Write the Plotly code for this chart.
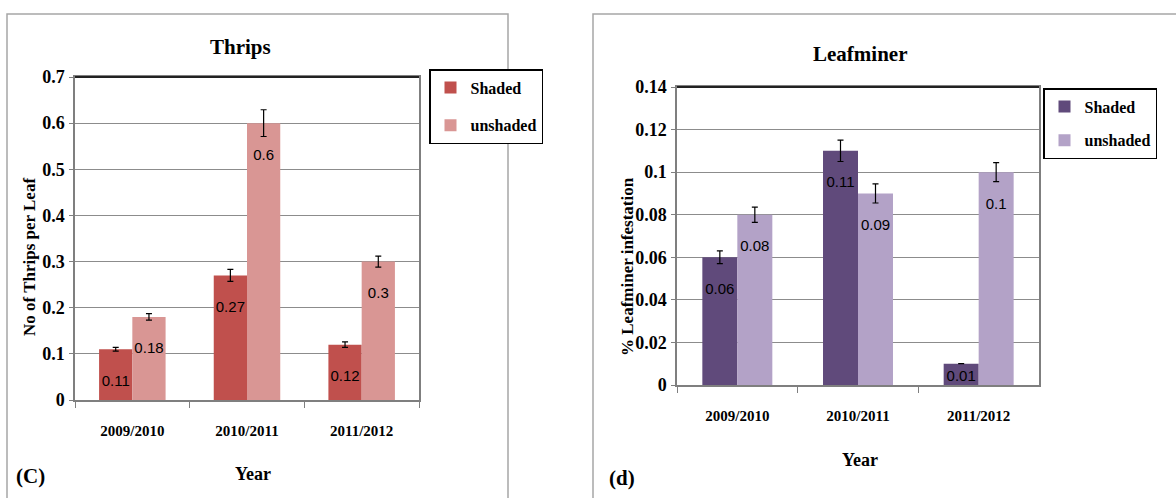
import plotly.graph_objects as go
from plotly.subplots import make_subplots

years = ["2009/2010", "2010/2011", "2011/2012"]
series_names = ["Shaded", "unshaded"]

thrips_shaded = [0.11, 0.27, 0.12]
thrips_unshaded = [0.18, 0.60, 0.30]
thrips_shaded_err = [0.004, 0.013, 0.006]
thrips_unshaded_err = [0.007, 0.029, 0.012]

leaf_shaded = [0.06, 0.11, 0.01]
leaf_unshaded = [0.08, 0.09, 0.10]
leaf_shaded_err = [0.003, 0.005, 0.0]
leaf_unshaded_err = [0.0036, 0.0045, 0.0045]

thrips_ticks = [0, 0.1, 0.2, 0.3, 0.4, 0.5, 0.6, 0.7]
leaf_ticks = [0, 0.02, 0.04, 0.06, 0.08, 0.1, 0.12, 0.14]

W, H = 1176, 498
SERIF = "Liberation Serif"
SANS = "Liberation Sans"

def px(x):
    return x / W

def py(y):
    return 1 - y / H

fig = make_subplots(rows=1, cols=2)

def fmt(v):
    return f"{v:g}"

def label(v, vmax):
    # push the label a line below the bar top when the bar is tall enough
    return ("\u00a0<br>" if v / vmax > 0.1 else "") + fmt(v)

def add_bars(col, vals, errs, name, color, legend, group, vmax):
    fig.add_trace(
        go.Bar(
            x=years, y=vals, name=name, marker=dict(color=color, line=dict(width=0)),
            error_y=dict(type="data", array=errs, color="black", thickness=1.2, width=3, visible=True),
            text=[label(v, vmax) for v in vals], textposition="inside", insidetextanchor="end",
            constraintext="none", textangle=0,
            textfont=dict(family=SANS, size=15, color="black"),
            legend=legend, legendgroup=group, showlegend=True,
        ),
        row=1, col=col,
    )

add_bars(1, thrips_shaded, thrips_shaded_err, series_names[0], "#C0504D", "legend", "a", thrips_ticks[-1])
add_bars(1, thrips_unshaded, thrips_unshaded_err, series_names[1], "#D99694", "legend", "b", thrips_ticks[-1])
add_bars(2, leaf_shaded, leaf_shaded_err, series_names[0], "#604A7B", "legend2", "c", leaf_ticks[-1])
add_bars(2, leaf_unshaded, leaf_unshaded_err, series_names[1], "#B3A2C7", "legend2", "d", leaf_ticks[-1])

tickfont = dict(family=SERIF, size=18, color="black", weight="bold")
xtickfont = dict(family=SERIF, size=15, color="black", weight="bold")

fig.update_xaxes(
    showline=True, linecolor="#7F7F7F", linewidth=1.5, mirror=True,
    ticks="outside", tickson="boundaries", ticklen=6, tickcolor="#7F7F7F",
    tickfont=xtickfont, showgrid=False, fixedrange=True, ticklabelstandoff=16,
)
fig.update_yaxes(
    showline=True, linecolor="#7F7F7F", linewidth=1.5, mirror=True,
    ticks="outside", ticklen=4, tickcolor="#7F7F7F",
    showgrid=True, gridcolor="#8C8C8C", gridwidth=1, zeroline=False,
    tickfont=tickfont, ticklabelstandoff=1, fixedrange=True,
)

fig.update_layout(
    xaxis=dict(domain=[px(75), px(419)]),
    yaxis=dict(domain=[py(400), py(77)], range=[0, 0.7], tickvals=thrips_ticks,
               ticktext=[fmt(t) for t in thrips_ticks]),
    xaxis2=dict(domain=[px(677), px(1039)]),
    yaxis2=dict(domain=[py(385), py(87)], range=[0, 0.14], tickvals=leaf_ticks,
                ticktext=[fmt(t) for t in leaf_ticks]),
)

legend_font = dict(family=SERIF, size=16, color="black", weight="bold")

fig.update_layout(
    width=W, height=H,
    margin=dict(l=0, r=0, t=0, b=0, autoexpand=False),
    paper_bgcolor="white", plot_bgcolor="white",
    barmode="group", bargap=0.42, bargroupgap=0,
    showlegend=True,
    legend=dict(
        x=px(429), y=py(69), xanchor="left", yanchor="top",
        bordercolor="black", borderwidth=1.5, bgcolor="white",
        font=legend_font, tracegroupgap=14, itemwidth=30,
    ),
    legend2=dict(
        x=px(1043), y=py(88), xanchor="left", yanchor="top",
        bordercolor="black", borderwidth=1.5, bgcolor="white",
        font=legend_font, tracegroupgap=10, itemwidth=30,
    ),
    shapes=[
        dict(type="rect", xref="paper", yref="paper", x0=px(7), x1=px(508), y0=py(505), y1=py(14),
             line=dict(color="#A6A6A6", width=1.5)),
        dict(type="rect", xref="paper", yref="paper", x0=px(593), x1=px(1190), y0=py(505), y1=py(14),
             line=dict(color="#A6A6A6", width=1.5)),
        dict(type="line", xref="paper", yref="paper", x0=px(75), x1=px(419), y0=py(77), y1=py(77),
             line=dict(color="#222222", width=2)),
        dict(type="line", xref="paper", yref="paper", x0=px(677), x1=px(1039), y0=py(87), y1=py(87),
             line=dict(color="#222222", width=2)),
    ],
)

def ann(text, x, y, size, angle=0, bold=True):
    fig.add_annotation(
        text=f"<b>{text}</b>" if bold else text, x=px(x), y=py(y), xref="paper", yref="paper",
        showarrow=False, textangle=angle, xanchor="center", yanchor="middle",
        font=dict(family=SERIF, size=size, color="black"),
    )

ann("Thrips", 240, 47, 21)
ann("Leafminer", 860, 54, 21)
ann("No of Thrips per Leaf", 29, 257, 17, -90)
ann("% Leafminer infestation", 627, 267, 17, -90)
ann("Year", 253, 474, 18)
ann("Year", 860, 460, 18)
ann("(C)", 30, 476, 21)
ann("(d)", 622, 478, 21)

fig.write_html(
    "out.html",
    config={"displayModeBar": False},
    post_script="document.body.style.margin='0';document.body.style.overflow='hidden';",
)
